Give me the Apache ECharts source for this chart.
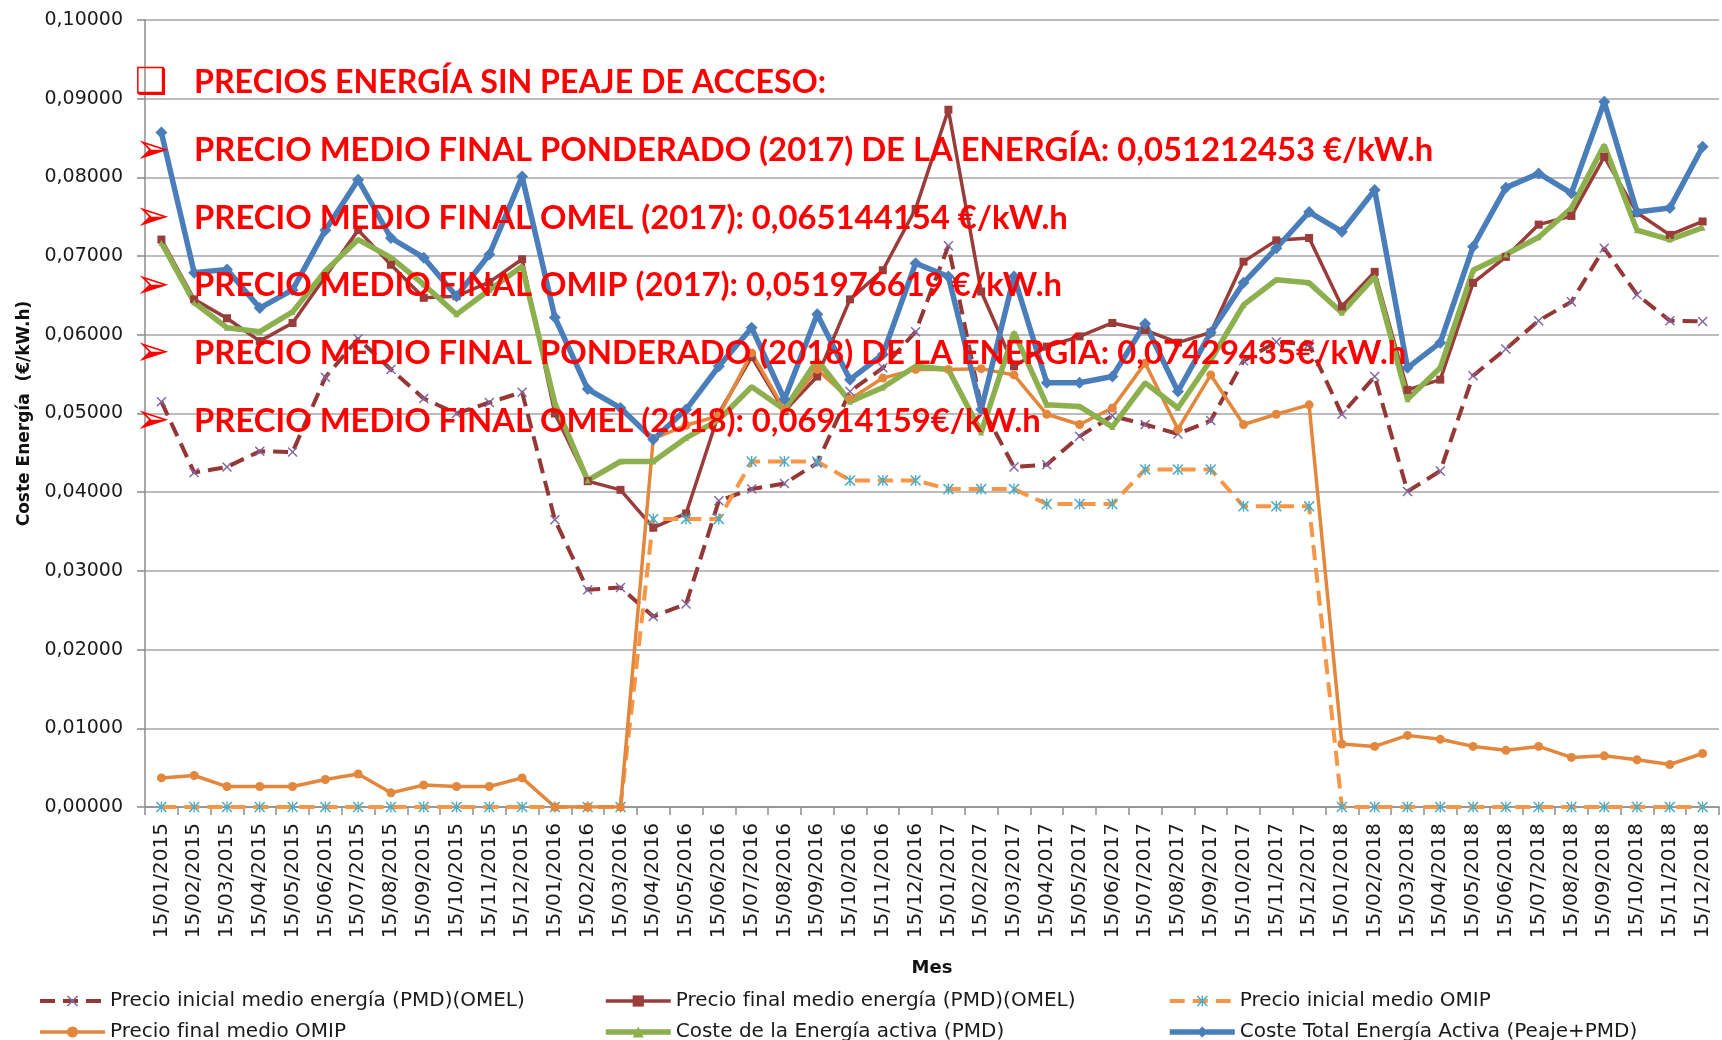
<!DOCTYPE html>
<html lang="es" style="height: 100%">
   <head>
      <meta charset="utf-8">
   </head>
   <body style="height: 100%; margin: 0; background: #fff">
      <div id="container" style="width: 1722px; height: 1040px"></div>
      <script type="text/javascript" src="https://fastly.jsdelivr.net/npm/echarts@6.0.0/dist/echarts.min.js"></script>
      <script type="text/javascript">
// meses (eje X)
var meses = [
  '15/01/2015', '15/02/2015', '15/03/2015', '15/04/2015', '15/05/2015', '15/06/2015',
  '15/07/2015', '15/08/2015', '15/09/2015', '15/10/2015', '15/11/2015', '15/12/2015',
  '15/01/2016', '15/02/2016', '15/03/2016', '15/04/2016', '15/05/2016', '15/06/2016',
  '15/07/2016', '15/08/2016', '15/09/2016', '15/10/2016', '15/11/2016', '15/12/2016',
  '15/01/2017', '15/02/2017', '15/03/2017', '15/04/2017', '15/05/2017', '15/06/2017',
  '15/07/2017', '15/08/2017', '15/09/2017', '15/10/2017', '15/11/2017', '15/12/2017',
  '15/01/2018', '15/02/2018', '15/03/2018', '15/04/2018', '15/05/2018', '15/06/2018',
  '15/07/2018', '15/08/2018', '15/09/2018', '15/10/2018', '15/11/2018', '15/12/2018'
];

var inicialOmel = [
  0.0515, 0.0425, 0.0432, 0.0452, 0.0451, 0.0546, 0.0595, 0.0556, 0.0519, 0.0500, 0.0514, 0.0527,
  0.0365, 0.0276, 0.0279, 0.0242, 0.0258, 0.0389, 0.0404, 0.0411, 0.0437, 0.0528, 0.0558, 0.0604,
  0.0713, 0.0510, 0.0432, 0.0435, 0.0471, 0.0497, 0.0486, 0.0474, 0.0491, 0.0567, 0.0591, 0.0588,
  0.0499, 0.0547, 0.0401, 0.0427, 0.0548, 0.0582, 0.0618, 0.0642, 0.0710, 0.0651, 0.0618, 0.0617
];

var finalOmel = [
  0.0721, 0.0645, 0.0621, 0.0592, 0.0615, 0.0674, 0.0733, 0.0689, 0.0647, 0.0649, 0.0667, 0.0696,
  0.0500, 0.0414, 0.0403, 0.0355, 0.0373, 0.0500, 0.0572, 0.0503, 0.0547, 0.0645, 0.0682, 0.0760,
  0.0886, 0.0655, 0.0560, 0.0585, 0.0598, 0.0615, 0.0606, 0.0590, 0.0603, 0.0693, 0.0720, 0.0723,
  0.0636, 0.0680, 0.0530, 0.0543, 0.0666, 0.0699, 0.0740, 0.0751, 0.0826, 0.0755, 0.0727, 0.0744
];

var inicialOmip = [
  0, 0, 0, 0, 0, 0, 0, 0, 0, 0, 0, 0,
  0, 0, 0, 0.0366, 0.0366, 0.0366, 0.0439, 0.0439, 0.0439, 0.0415, 0.0415, 0.0415,
  0.0404, 0.0404, 0.0404, 0.0385, 0.0385, 0.0385, 0.0429, 0.0429, 0.0429, 0.0382, 0.0382, 0.0382,
  0, 0, 0, 0, 0, 0, 0, 0, 0, 0, 0, 0
];

var finalOmip = [
  0.0037, 0.0040, 0.0026, 0.0026, 0.0026, 0.0035, 0.0042, 0.0018, 0.0028, 0.0026, 0.0026, 0.0037,
  0, 0, 0, 0.0468, 0.0485, 0.0497, 0.0577, 0.0505, 0.0556, 0.0518, 0.0545, 0.0556,
  0.0556, 0.0557, 0.0549, 0.0499, 0.0486, 0.0507, 0.0564, 0.0480, 0.0549, 0.0486, 0.0499, 0.0511,
  0.0080, 0.0077, 0.0091, 0.0086, 0.0077, 0.0072, 0.0077, 0.0063, 0.0065, 0.0060, 0.0054, 0.0068
];

var costeEnergia = [
  0.0717, 0.0641, 0.0609, 0.0604, 0.0629, 0.0681, 0.0721, 0.0698, 0.0664, 0.0626, 0.0657, 0.0687,
  0.0513, 0.0415, 0.0439, 0.0439, 0.0469, 0.0492, 0.0534, 0.0505, 0.0568, 0.0515, 0.0533, 0.0560,
  0.0556, 0.0476, 0.0603, 0.0511, 0.0509, 0.0483, 0.0539, 0.0507, 0.0568, 0.0638, 0.0670, 0.0666,
  0.0628, 0.0674, 0.0518, 0.0558, 0.0682, 0.0702, 0.0724, 0.0761, 0.0841, 0.0733, 0.0721, 0.0736
];

var costeTotal = [
  0.0857, 0.0679, 0.0683, 0.0634, 0.0657, 0.0733, 0.0797, 0.0723, 0.0698, 0.0649, 0.0702, 0.0801,
  0.0622, 0.0531, 0.0507, 0.0467, 0.0505, 0.0560, 0.0609, 0.0518, 0.0626, 0.0543, 0.0575, 0.0691,
  0.0674, 0.0505, 0.0674, 0.0539, 0.0539, 0.0547, 0.0614, 0.0528, 0.0603, 0.0666, 0.0710, 0.0756,
  0.0731, 0.0784, 0.0558, 0.0590, 0.0712, 0.0787, 0.0805, 0.0780, 0.0896, 0.0756, 0.0761, 0.0839
];

var nombres = [
  'Precio inicial medio energía (PMD)(OMEL)',
  'Precio final medio energía (PMD)(OMEL)',
  'Precio inicial medio OMIP',
  'Precio final medio OMIP',
  'Coste de la Energía activa (PMD)',
  'Coste Total Energía Activa (Peaje+PMD)'
];

var notas = [
  'PRECIOS ENERGÍA SIN PEAJE DE ACCESO:',
  'PRECIO MEDIO FINAL PONDERADO (2017) DE LA ENERGÍA: 0,051212453 €/kW.h',
  'PRECIO MEDIO FINAL OMEL (2017): 0,065144154 €/kW.h',
  'PRECIO MEDIO FINAL OMIP (2017): 0,051976619 €/kW.h',
  'PRECIO MEDIO FINAL PONDERADO (2018) DE LA ENERGÍA: 0,07429435€/kW.h',
  'PRECIO MEDIO FINAL OMEL (2018): 0,06914159€/kW.h'
];

var cruz = 'path://M1,0L5,4L9,0L10,1L6,5L10,9L9,10L5,6L1,10L0,9L4,5L0,1Z';
var asterisco = 'path://M1,0L5,4L9,0L10,1L6,5L10,9L9,10L5,6L1,10L0,9L4,5L0,1Z M4.4,0L5.6,0L5.6,10L4.4,10Z';

var dom = document.getElementById('container');
var myChart = echarts.init(dom, null, { renderer: 'canvas' });

// anotaciones en rojo
var graficos = [];
notas.forEach(function (t, i) {
  var y = 83 + i * 67.6;
  graficos.push({
    type: 'text', x: 135, y: y + 1, z: 100,
    style: {
      text: i === 0 ? '\u2751' : '\u27A2',
      fill: '#FF0000', fontFamily: 'DejaVu Sans', fontSize: i === 0 ? 36 : 42,
      verticalAlign: 'middle'
    }
  });
  graficos.push({
    type: 'text', x: 194, y: y, z: 100,
    style: {
      text: t, fill: '#FF0000', fontFamily: 'Lato', fontWeight: 'bold',
      fontSize: i === 0 ? 32.2 : 32.8, verticalAlign: 'middle'
    }
  });
});

// tres columnas de leyenda, dos filas cada una
var leyendaBase = {
  type: 'plain',
  orient: 'vertical',
  top: 986,
  height: 90,
  itemWidth: 65,
  itemHeight: 14,
  itemGap: 11,
  lineStyle: { width: 'inherit' },
  textStyle: { fontFamily: 'DejaVu Sans', fontSize: 20, color: '#1a1a1a', lineHeight: 20 }
};

var option = {
  animation: false,
  backgroundColor: '#fff',
  graphic: graficos,
  legend: [
    Object.assign({}, leyendaBase, { id: 'ley0', left: 33, data: [nombres[0], nombres[3]] }),
    Object.assign({}, leyendaBase, { id: 'ley1', left: 598, data: [nombres[1], nombres[4]] }),
    Object.assign({}, leyendaBase, { id: 'ley2', left: 1162, data: [nombres[2], nombres[5]] })
  ],
  grid: {
    left: 145,
    right: 3,
    top: 20,
    bottom: 233,
    containLabel: false,
    outerBoundsMode: 'none'
  },
  xAxis: {
    type: 'category',
    data: meses,
    boundaryGap: true,
    name: 'Mes',
    nameLocation: 'middle',
    nameGap: 152,
    nameTextStyle: { fontFamily: 'DejaVu Sans', fontWeight: 'bold', fontSize: 18, color: '#111' },
    axisLine: { lineStyle: { color: '#8c8c8c', width: 1.5 } },
    axisTick: { show: true, interval: 0, length: 8, lineStyle: { color: '#8c8c8c', width: 1.5 } },
    axisLabel: {
      interval: 0, rotate: 90, margin: 16,
      fontFamily: 'DejaVu Sans', fontSize: 20, color: '#1a1a1a'
    },
    splitLine: { show: false }
  },
  yAxis: {
    type: 'value',
    min: 0,
    max: 0.1,
    interval: 0.01,
    name: 'Coste Energía  (€/kW.h)',
    nameLocation: 'middle',
    nameGap: 112,
    nameTextStyle: { fontFamily: 'DejaVu Sans', fontWeight: 'bold', fontSize: 17, color: '#111' },
    axisLine: { show: true, lineStyle: { color: '#8c8c8c', width: 1.5 } },
    axisTick: { show: true, length: 8, lineStyle: { color: '#8c8c8c', width: 1.5 } },
    axisLabel: {
      margin: 22,
      fontFamily: 'DejaVu Sans', fontSize: 19, color: '#1a1a1a',
      formatter: function (v) { return v.toFixed(5).replace('.', ','); }
    },
    splitLine: { show: true, lineStyle: { color: '#a6a6a6', width: 1.5 } }
  },
  series: [
    {
      name: nombres[0], type: 'line', data: inicialOmel,
      symbol: cruz, symbolSize: 10, showAllSymbol: true,
      lineStyle: { color: '#953735', width: 4, type: [15, 8] },
      itemStyle: { color: '#8064A2' }
    },
    {
      name: nombres[1], type: 'line', data: finalOmel,
      symbol: 'rect', symbolSize: 8, showAllSymbol: true,
      lineStyle: { color: '#993c3a', width: 3.5 },
      itemStyle: { color: '#993c3a' }
    },
    {
      name: nombres[2], type: 'line', data: inicialOmip,
      symbol: asterisco, symbolSize: 11, showAllSymbol: true,
      lineStyle: { color: '#F79646', width: 4, type: [15, 8] },
      itemStyle: { color: '#4BACC6' }
    },
    {
      name: nombres[3], type: 'line', data: finalOmip,
      symbol: 'circle', symbolSize: 9, showAllSymbol: true,
      lineStyle: { color: '#E3873D', width: 3.5 },
      itemStyle: { color: '#E3873D' }
    },
    {
      name: nombres[4], type: 'line', data: costeEnergia,
      symbol: 'triangle', symbolSize: 6, showAllSymbol: true,
      lineStyle: { color: '#8DB04E', width: 5.5 },
      itemStyle: { color: '#8DB04E' }
    },
    {
      name: nombres[5], type: 'line', data: costeTotal,
      symbol: 'diamond', symbolSize: 12, showAllSymbol: true,
      lineStyle: { color: '#4A7EBB', width: 5.5 },
      itemStyle: { color: '#4A7EBB' }
    }
  ]
};

if (option && typeof option === 'object') {
  myChart.setOption(option);
}
window.addEventListener('resize', myChart.resize);
      </script>
   </body>
</html>
